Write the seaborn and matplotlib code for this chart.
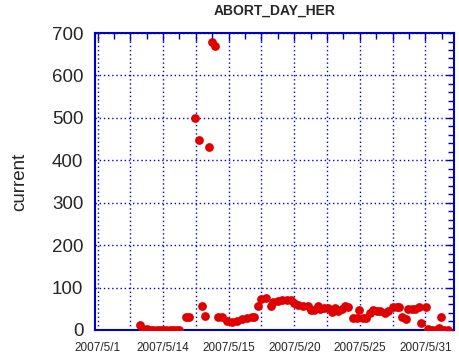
import matplotlib
matplotlib.use("Agg")
import matplotlib.pyplot as plt
import seaborn as sns
import pandas as pd
from matplotlib.ticker import MultipleLocator

# sample position along the time axis (one unit = one grid step)
sample_pos = [1.30, 1.40, 1.50, 1.60, 1.70, 1.80, 1.90, 2.00, 2.10, 2.20, 2.30, 2.40, 2.50,
              2.70, 2.80,
              2.98, 3.10, 3.20, 3.29, 3.41, 3.50, 3.59, 3.68, 3.79, 3.94,
              4.09, 4.24, 4.40, 4.55, 4.70, 4.78, 4.90, 5.00, 5.14, 5.29, 5.36, 5.49, 5.63, 5.77, 5.90, 5.99,
              6.12, 6.27, 6.41, 6.51, 6.60, 6.71, 6.78, 6.91,
              7.02, 7.14, 7.24, 7.34, 7.45, 7.55, 7.65, 7.80, 7.90, 7.98,
              8.09, 8.19, 8.31, 8.39, 8.51, 8.61, 8.77, 8.87,
              9.02, 9.12, 9.20, 9.29, 9.40, 9.48, 9.58, 9.68, 9.80, 9.86,
              10.01, 10.09, 10.19, 10.31, 10.41, 10.49, 10.57, 10.68]

current = [12, 3, 1, 0, 0, 0, 0, 0, 0, 0, 0, 0, 0,
           30, 30,
           499, 447, 56, 32, 431, 678, 669, 30, 30, 21,
           18, 22, 26, 29, 30, 30, 56, 73, 76, 57, 67, 69, 71, 71, 71, 64,
           59, 57, 57, 47, 47, 57, 49, 51,
           51, 42, 51, 45, 49, 57, 55, 29, 29, 47,
           29, 29, 39, 47, 45, 45, 41, 45,
           55, 55, 55, 30, 26, 49, 49, 49, 55, 16,
           55, 2, 0, 0, 5, 30, 0, 0]

tick_pos = [0, 1, 2, 3, 4, 5, 6, 7, 8, 9, 10]
tick_labels = ["2007/5/1", "", "2007/5/14", "", "2007/5/15", "",
               "2007/5/20", "", "2007/5/25", "", "2007/5/31"]

df = pd.DataFrame({"pos": sample_pos, "current": current})

sns.set_style("white")
plt.rcParams["font.family"] = ["Liberation Sans", "DejaVu Sans"]

blue = "#0000cc"
fig = plt.figure(figsize=(4.59, 3.59), dpi=100)
ax = fig.add_axes([0.206, 0.081, 0.783, 0.827])

sns.scatterplot(data=df, x="pos", y="current", color="#e00000", s=40,
                linewidth=0, ax=ax, zorder=3)

ax.set_xlim(-0.09, 10.87)
ax.set_ylim(0, 700)
ax.set_xticks(tick_pos)
ax.set_xticklabels(tick_labels, fontsize=8.5)
ax.xaxis.set_minor_locator(MultipleLocator(0.5))
ax.set_yticks(range(0, 701, 100))
ax.yaxis.set_minor_locator(MultipleLocator(20))
ax.tick_params(axis="y", labelsize=13.5, pad=8)
ax.tick_params(which="both", direction="in", top=True, right=True, color=blue, width=1)
ax.tick_params(which="major", length=6)
ax.tick_params(which="minor", length=4)
ax.tick_params(axis="x", pad=9)

ax.grid(True, which="major", color=blue, linestyle=(0, (1, 2)), linewidth=1)
for sp in ax.spines.values():
    sp.set_color(blue)
    sp.set_linewidth(1.5)

ax.set_xlabel("")
ax.set_ylabel("current", fontsize=13.5, labelpad=17)
ax.set_title("ABORT_DAY_HER", fontsize=10, fontweight="bold", pad=13)

fig.savefig("out.png", dpi=100)
